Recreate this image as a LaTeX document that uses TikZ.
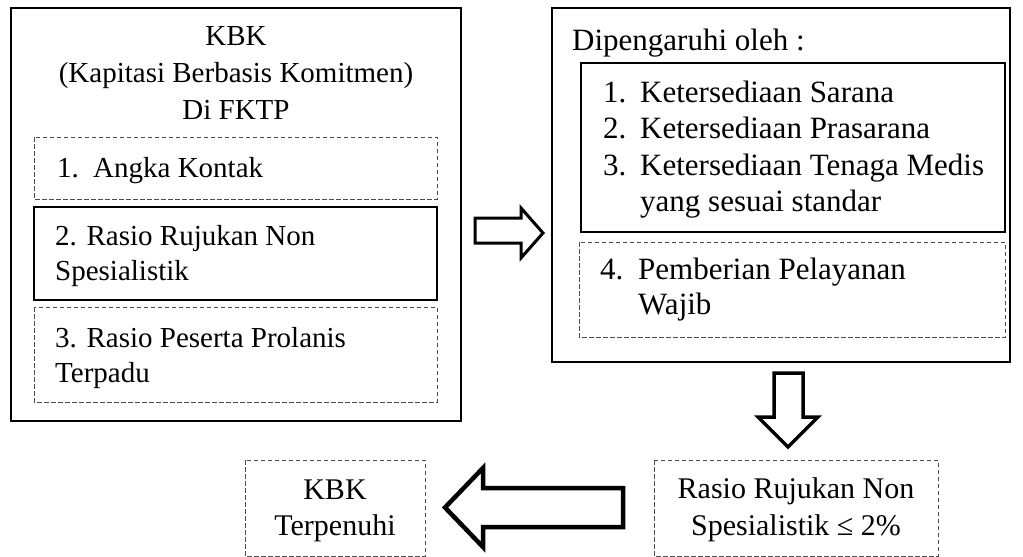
\documentclass[tikz,border=0pt]{standalone}
\usepackage{fontspec}
\setmainfont{Liberation Serif}
\begin{document}
\begin{tikzpicture}[x=1pt,y=-1pt,line join=miter,
    kotak/.style={draw=black,line width=1.3pt},
    kotakputus/.style={draw=black!70,line width=0.9pt,dash pattern=on 4.5pt off 2.5pt},
    panah/.style={draw=black,line width=3pt,fill=white},
    kiri/.style={inner sep=0pt,anchor=base west,font=\fontsize{29}{35}\selectfont},
    judul/.style={inner sep=0pt,anchor=base,font=\fontsize{29}{35}\selectfont},
    kanan/.style={inner sep=0pt,anchor=base west,font=\fontsize{31}{37}\selectfont},
    bawah/.style={inner sep=0pt,anchor=base,font=\fontsize{30}{36}\selectfont}]
    \useasboundingbox (0,0) rectangle (1023,557);
    % kotak KBK
    \draw[kotak] (11,8) rectangle (461,421);
    \draw[kotakputus] (34,137) rectangle (437,199);
    \draw[kotak] (34,207) rectangle (437,300);
    \draw[kotakputus] (34,307) rectangle (437,402);
    \node[judul] (kbk) at (236,45) {KBK};
    \node[judul] (kapitasi) at (236,82) {(Kapitasi Berbasis Komitmen)};
    \node[judul] (fktp) at (236,119) {Di FKTP};
    \node[kiri] (angka) at (57,177) {\makebox[36pt][l]{1.}Angka Kontak};
    \node[kiri] (rujukan) at (55,245) {2. Rasio Rujukan Non};
    \node[kiri] (rujukanb) at (55,280) {Spesialistik};
    \node[kiri] (prolanis) at (55,347) {3. Rasio Peserta Prolanis};
    \node[kiri] (prolanisb) at (55,382) {Terpadu};
    % kotak faktor
    \draw[kotak] (552,8) rectangle (1010,362);
    \draw[kotak] (581,63) rectangle (1005,232);
    \draw[kotakputus] (579,242) rectangle (1005,337);
    \node[kanan] (faktor) at (572,50) {Dipengaruhi oleh :};
    \node[kanan] (sarana) at (603,102) {\makebox[37pt][l]{1.}Ketersediaan Sarana};
    \node[kanan] (prasarana) at (603,138) {\makebox[37pt][l]{2.}Ketersediaan Prasarana};
    \node[kanan] (tenaga) at (603,175) {\makebox[37pt][l]{3.}Ketersediaan Tenaga Medis};
    \node[kanan] (tenagab) at (640,211) {yang sesuai standar};
    \node[kanan] (wajib) at (600,279) {\makebox[38pt][l]{4.}Pemberian Pelayanan};
    \node[kanan] (wajibb) at (638,314) {Wajib};
    % kotak bawah
    \draw[kotakputus] (245,460) rectangle (425,556);
    \draw[kotakputus] (654,460) rectangle (938,556);
    \node[bawah] (hasil) at (335,499) {KBK};
    \node[bawah] (hasilb) at (335,535) {Terpenuhi};
    \node[bawah] (syarat) at (796,498) {Rasio Rujukan Non};
    \node[bawah] (syaratb) at (796,535) {Spesialistik ≤ 2\%};
    % panah
    \draw[panah] (475,218) -- (521,218) -- (521,208) -- (543,233) -- (521,258) -- (521,243) -- (475,243) -- cycle;
    \draw[panah,line width=3.5pt] (774,373) -- (803,373) -- (803,417) -- (818,417) -- (788,447) -- (758,417) -- (774,417) -- cycle;
    \draw[panah,line width=4.5pt] (623,488) -- (483,488) -- (483,468) -- (445,507.5) -- (483,547) -- (483,527) -- (623,527) -- cycle;
\end{tikzpicture}
\end{document}
